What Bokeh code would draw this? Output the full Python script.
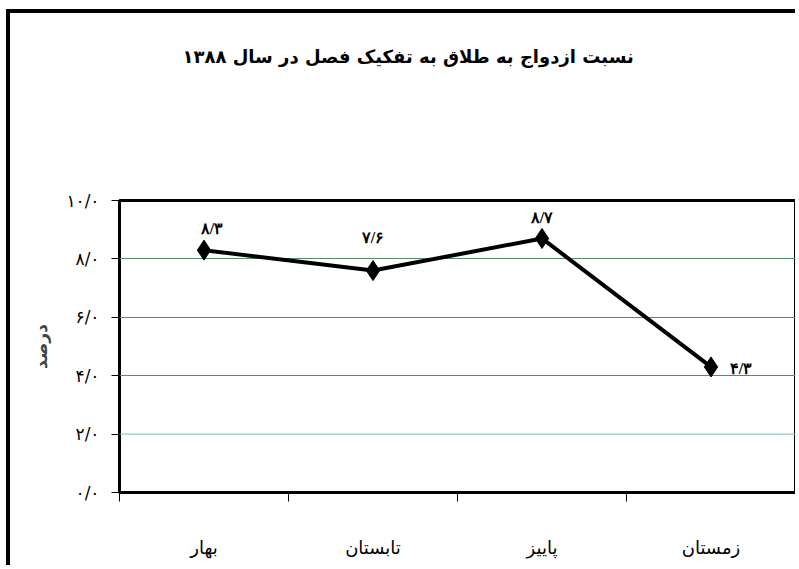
from bokeh.plotting import figure
from bokeh.models import (ColumnDataSource, Range1d, FixedTicker, LabelSet, Span, Title)
from bokeh.embed import file_html
from bokeh.resources import INLINE

title_text = "نسبت  ازدواج به طلاق به تفکیک فصل در سال ۱۳۸۸"
y_label = "درصد"
seasons = ["بهار", "تابستان", "پاییز", "زمستان"]
values = [8.3, 7.6, 8.7, 4.3]
value_labels = ["۸/۳", "۷/۶", "۸/۷", "۴/۳"]
y_ticks = [0, 2, 4, 6, 8, 10]
y_tick_labels = ["۰/۰", "۲/۰", "۴/۰", "۶/۰", "۸/۰", "۱۰/۰"]

FONT = "DejaVu Sans"

xs = [i + 0.5 for i in range(len(seasons))]
lab_dx = [8, 0, 0, 30]
lab_dy = [22, 33, 21, -2]

src = ColumnDataSource(dict(x=xs, y=values, lab=value_labels, dx=lab_dx, dy=lab_dy))

p = figure(width=789, height=556, output_backend="svg", toolbar_location=None,
           x_range=Range1d(0, len(seasons)), y_range=Range1d(0, 10),
           min_border_left=109, min_border_right=4, min_border_top=187,
           min_border_bottom=77)
p.styles = {"border-left": "4px solid black", "border-top": "4px solid black",
            "margin-left": "6px", "margin-top": "9px"}

p.outline_line_color = "black"
p.outline_line_width = 3
p.background_fill_color = "white"
p.border_fill_color = "white"

# grid
p.xgrid.grid_line_color = None
p.ygrid.ticker = FixedTicker(ticks=[4, 6, 8])
p.ygrid.grid_line_color = "#4f8f6c"
p.ygrid.grid_line_width = 1
p.add_layout(Span(location=2, dimension="width", line_color="#74c79c", line_width=1))

# y axis
p.yaxis.ticker = FixedTicker(ticks=y_ticks)
p.yaxis.major_label_overrides = {t: l for t, l in zip(y_ticks, y_tick_labels)}
p.yaxis.major_label_text_font = FONT
p.yaxis.major_label_text_font_size = "17px"
p.yaxis.major_label_text_color = "black"
p.yaxis.major_tick_out = 8
p.yaxis.major_tick_in = 0
p.yaxis.minor_tick_out = 0
p.yaxis.minor_tick_in = 0
p.yaxis.axis_line_color = None
p.yaxis.major_tick_line_color = "black"
p.yaxis.major_label_standoff = 12
p.yaxis.axis_label = y_label
p.yaxis.axis_label_text_font = FONT
p.yaxis.axis_label_text_font_size = "17px"
p.yaxis.axis_label_text_font_style = "bold"
p.yaxis.axis_label_standoff = 12

# x axis
p.xaxis.ticker = FixedTicker(ticks=xs, minor_ticks=list(range(len(seasons) + 1)))
p.xaxis.major_label_overrides = {x: s for x, s in zip(xs, seasons)}
p.xaxis.major_label_text_font = FONT
p.xaxis.major_label_text_font_size = "18px"
p.xaxis.major_label_text_color = "black"
p.xaxis.major_tick_out = 0
p.xaxis.major_tick_in = 0
p.xaxis.minor_tick_out = 9
p.xaxis.minor_tick_in = 0
p.xaxis.minor_tick_line_color = "black"
p.xaxis.axis_line_color = None
p.xaxis.major_label_standoff = 35

p.line("x", "y", source=src, line_color="black", line_width=4)
p.scatter("x", "y", source=src, marker="diamond", size=20, fill_color="black",
          line_color="black")

labels = LabelSet(x="x", y="y", text="lab", source=src, x_offset="dx", y_offset="dy",
                  text_align="center", text_baseline="middle", text_font=FONT,
                  text_font_size="16px", text_font_style="bold", text_color="black")
p.add_layout(labels)

# spacer between frame and title
p.add_layout(Title(text=" ", standoff=131, text_font_size="1px"), "above")
p.add_layout(Title(text=title_text, align="left", offset=63, standoff=0,
                   text_font=FONT, text_font_size="18px", text_font_style="bold",
                   text_color="black"), "above")

open("out.html", "w").write(file_html(p, INLINE))
